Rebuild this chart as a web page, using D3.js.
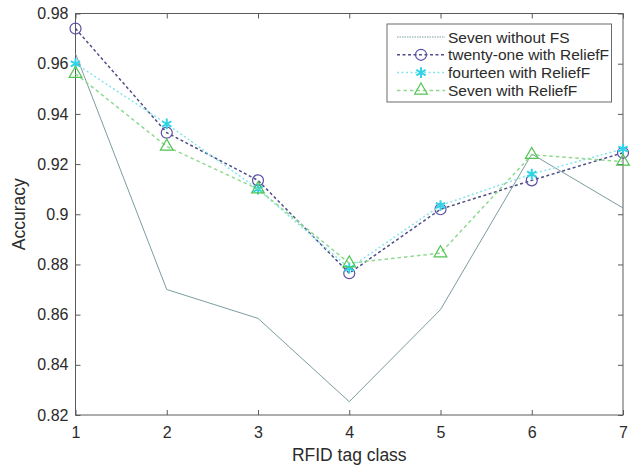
<!DOCTYPE html>
<html>
<head>
<meta charset="utf-8">
<script src="https://cdn.jsdelivr.net/npm/d3@7"></script>
<style>
    body { margin: 0; background: #fff; }
    svg { display: block; font-family: "Liberation Sans", Arial, sans-serif; }
</style>
</head>
<body>
<svg id="chart" width="635" height="468"></svg>
<script>
// data
var tagClasses = [1, 2, 3, 4, 5, 6, 7];
var sevenWithoutFS = [0.964, 0.870, 0.8585, 0.8253, 0.862, 0.924, 0.9025];
var twentyOneReliefF = [0.974, 0.9325, 0.9135, 0.8765, 0.902, 0.9135, 0.9245];
var fourteenReliefF = [0.960, 0.936, 0.910, 0.8785, 0.9035, 0.916, 0.926];
var sevenReliefF = [0.956, 0.927, 0.910, 0.8805, 0.8845, 0.9237, 0.921];
var yTicks = [0.82, 0.84, 0.86, 0.88, 0.9, 0.92, 0.94, 0.96, 0.98];
var seriesNames = ["Seven without FS", "twenty-one with ReliefF", "fourteen with ReliefF", "Seven with ReliefF"];

var series = [
    { name: seriesNames[0], values: sevenWithoutFS, color: "#7b9ca0", width: 1, dash: null, marker: null },
    { name: seriesNames[1], values: twentyOneReliefF, color: "#4f4f88", width: 1.5, dash: "3,2.5", marker: "circle", markerColor: "#5b4ea6" },
    { name: seriesNames[2], values: fourteenReliefF, color: "#86e4ee", width: 1.5, dash: "2,2.5", marker: "asterisk", markerColor: "#2fd3e6" },
    { name: seriesNames[3], values: sevenReliefF, color: "#8fd98f", width: 1.5, dash: "3.5,3", marker: "triangle", markerColor: "#52c452" }
];

var svg = d3.select("#chart");
// plot box (window.top is reserved, so prefixed names)
var plotLeft = 75.5, plotRight = 623, plotTop = 13.5, plotBottom = 415;

var x = d3.scaleLinear().domain([1, 7]).range([plotLeft, plotRight]);
var y = d3.scaleLinear().domain([0.82, 0.98]).range([plotBottom, plotTop]);

var axisColor = "#5a5a5a";
var textColor = "#2b2b2b";

function styleAxis(g, showText) {
    g.select(".domain").remove();
    g.selectAll(".tick line").attr("stroke", axisColor);
    g.selectAll(".tick text")
        .attr("fill", textColor)
        .style("font-size", "16px")
        .style("display", showText ? null : "none");
}

svg.append("g")
    .attr("transform", "translate(0," + plotBottom + ")")
    .call(d3.axisBottom(x).tickValues(tagClasses).tickFormat(d3.format("d")).tickSizeInner(-5).tickSizeOuter(0).tickPadding(12))
    .call(styleAxis, true);
svg.append("g")
    .attr("transform", "translate(0," + plotTop + ")")
    .call(d3.axisTop(x).tickValues(tagClasses).tickSizeInner(-5).tickSizeOuter(0))
    .call(styleAxis, false);
svg.append("g")
    .attr("transform", "translate(" + plotLeft + ",0)")
    .call(d3.axisLeft(y).tickValues(yTicks).tickFormat(function (d) { return String(+d.toFixed(2)); }).tickSizeInner(-5).tickSizeOuter(0).tickPadding(7))
    .call(styleAxis, true);
svg.append("g")
    .attr("transform", "translate(" + plotRight + ",0)")
    .call(d3.axisRight(y).tickValues(yTicks).tickSizeInner(-5).tickSizeOuter(0))
    .call(styleAxis, false);

// box around plot
svg.append("rect")
    .attr("x", plotLeft).attr("y", plotTop)
    .attr("width", plotRight - plotLeft).attr("height", plotBottom - plotTop)
    .attr("fill", "none").attr("stroke", axisColor).attr("stroke-width", 1);

svg.append("text")
    .attr("x", (plotLeft + plotRight) / 2).attr("y", 461)
    .attr("text-anchor", "middle")
    .attr("fill", textColor)
    .style("font-size", "17.5px")
    .text("RFID tag class");
svg.append("text")
    .attr("transform", "translate(25," + ((plotTop + plotBottom) / 2) + ") rotate(-90)")
    .attr("text-anchor", "middle")
    .attr("fill", textColor)
    .style("font-size", "17.5px")
    .text("Accuracy");

var symbolTypes = {
    circle: d3.symbol(d3.symbolCircle, 95),
    asterisk: d3.symbol(d3.symbolAsterisk, 80),
    triangle: d3.symbol(d3.symbolTriangle, 70)
};

function drawMarker(g, s, px, py) {
    g.append("path")
        .attr("d", symbolTypes[s.marker]())
        .attr("transform", "translate(" + px + "," + py + ")")
        .attr("fill", "none")
        .attr("stroke", s.markerColor)
        .attr("stroke-width", s.marker === "asterisk" ? 2 : 1.2);
}

var line = d3.line()
    .x(function (d, i) { return x(tagClasses[i]); })
    .y(function (d) { return y(d); });

series.forEach(function (s) {
    var g = svg.append("g");
    g.append("path")
        .attr("d", line(s.values))
        .attr("fill", "none")
        .attr("stroke", s.color)
        .attr("stroke-width", s.width)
        .attr("stroke-dasharray", s.dash);
    if (s.marker) {
        s.values.forEach(function (v, i) {
            drawMarker(g, s, x(tagClasses[i]), y(v));
        });
    }
});

// legend
var legend = svg.append("g");
legend.append("rect")
    .attr("x", 387).attr("y", 24)
    .attr("width", 224.5).attr("height", 78)
    .attr("fill", "#fff").attr("stroke", "#6a6a6a").attr("stroke-width", 1);

series.forEach(function (s, i) {
    var ry = 37 + i * 17.8;
    var row = legend.append("g");
    row.append("line")
        .attr("x1", 397).attr("x2", 445)
        .attr("y1", ry).attr("y2", ry)
        .attr("stroke", s.color)
        .attr("stroke-width", s.width)
        .attr("stroke-dasharray", s.dash || "1.5,1");
    if (s.marker) drawMarker(row, s, 421, ry);
    row.append("text")
        .attr("x", 448).attr("y", ry + 5.5)
        .attr("fill", textColor)
        .style("font-size", "15.5px")
        .text(s.name);
});
</script>
</body>
</html>
